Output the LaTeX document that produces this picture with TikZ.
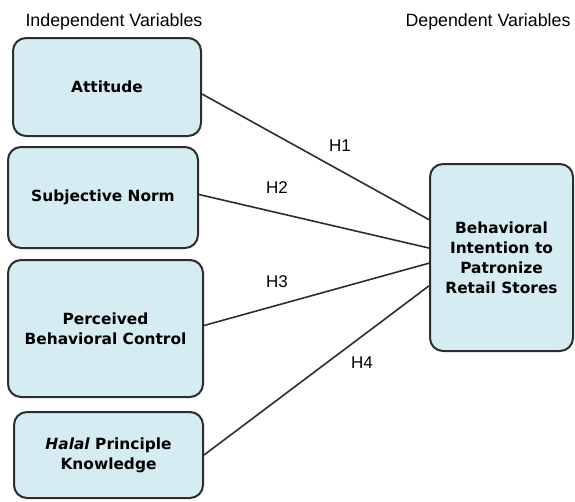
\documentclass[tikz,border=0pt]{standalone}
\usepackage{fontspec}
\setmainfont{Liberation Sans}
\newfontfamily\boxfont{DejaVu Sans}
\usetikzlibrary{calc}
\definecolor{boxfill}{RGB}{212,236,242}
\definecolor{boxline}{RGB}{45,45,45}
\tikzset{
  varbox/.style={draw=boxline, line width=2pt, fill=boxfill, rounded corners=13pt,
    align=center, inner sep=0pt, font=\boxfont\bfseries\fontsize{15.4}{20}\selectfont},
  link/.style={draw=boxline, line width=1.6pt},
  hyp/.style={font=\fontsize{17}{20}\selectfont},
  heading/.style={anchor=base west, font=\fontsize{17.8}{21}\selectfont}
}
\begin{document}
\begin{tikzpicture}[x=1pt, y=-1pt]
    \useasboundingbox (0,0) rectangle (575,501);

    % Headings
    \node[heading] (indep) at (22,26) {Independent Variables};
    \node[heading] (dep) at (402,26) {Dependent Variables};

    % Independent variable boxes
    \node[varbox, minimum width=188pt, minimum height=98pt] (att) at (107,87) {Attitude};
    \node[varbox, minimum width=190pt, minimum height=101pt] (sn) at (103,197.5) {Subjective Norm};
    \node[varbox, minimum width=195pt, minimum height=137pt] (pbc) at (105.5,328.5) {Perceived\\Behavioral Control};
    \node[varbox, minimum width=189pt, minimum height=86pt] (hpk) at (108.5,455) {\textit{Halal} Principle\\Knowledge};

    % Dependent variable box
    \node[varbox, minimum width=143pt, minimum height=187pt] (bi) at (501.5,257.5)
        {Behavioral\\Intention to\\Patronize\\Retail Stores};

    % Hypothesis paths
    \draw[link] ([yshift=-7pt]att.east) -- ($(bi.north west)!0.30!(bi.south west)$);
    \draw[link] ([yshift=3pt]sn.east) -- ($(bi.north west)!0.45!(bi.south west)$);
    \draw[link] ([yshift=3pt]pbc.east) -- ($(bi.north west)!0.53!(bi.south west)$);
    \draw[link] (hpk.east) -- ($(bi.north west)!0.65!(bi.south west)$);

    \node[hyp] (h1) at (340,146) {H1};
    \node[hyp] (h2) at (277,188) {H2};
    \node[hyp] (h3) at (277,282) {H3};
    \node[hyp] (h4) at (362,363) {H4};
\end{tikzpicture}
\end{document}
